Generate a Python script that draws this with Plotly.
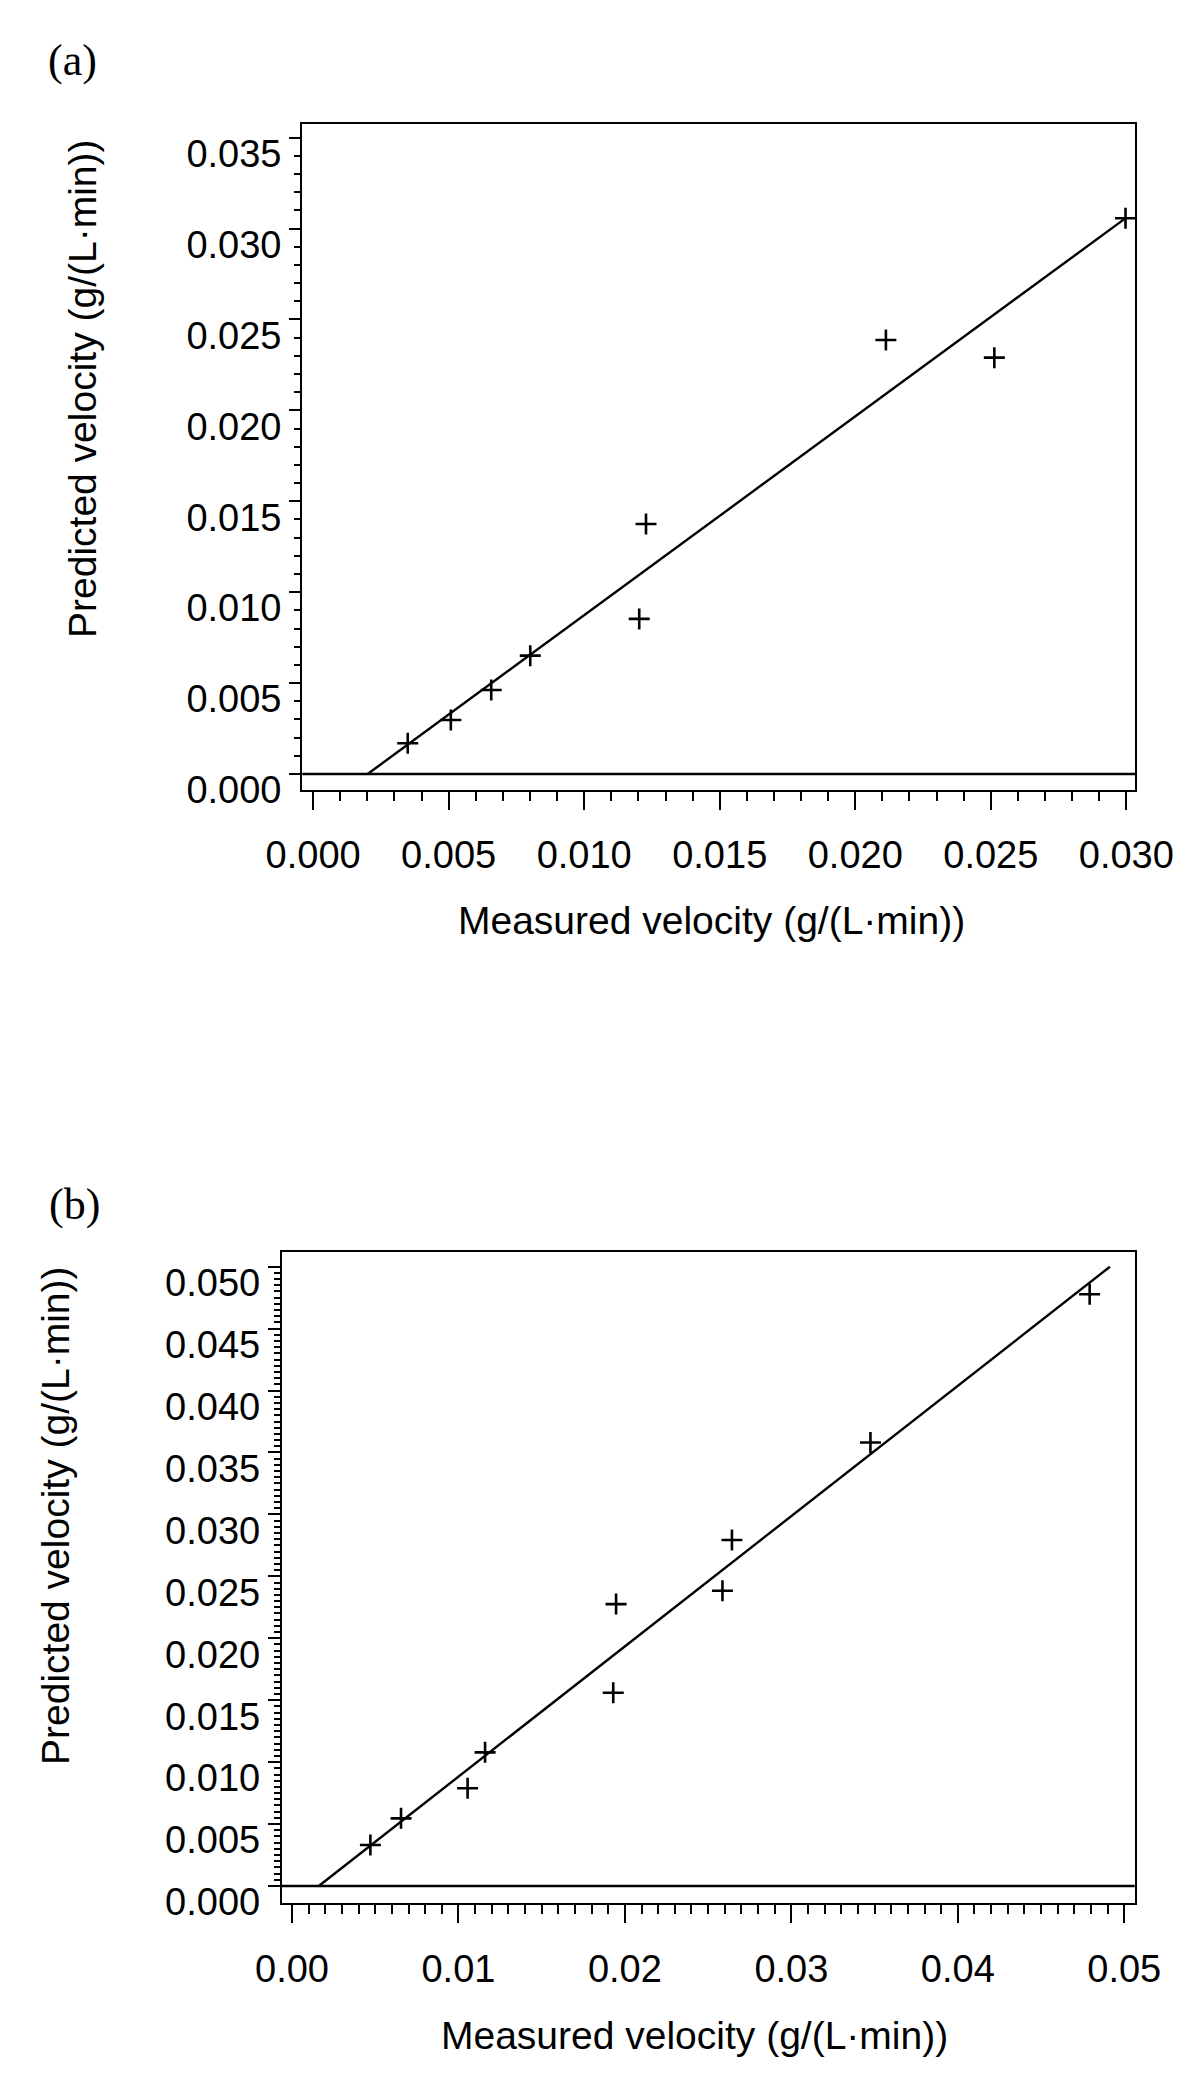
import numpy as np
import plotly.graph_objects as go

# ---------------- data ----------------
# Panel (a)
meas_a = [0.00349, 0.00508, 0.00657, 0.00801, 0.01228, 0.01203, 0.02113, 0.02513, 0.02997]
pred_a = [0.00169, 0.00297, 0.00462, 0.00651, 0.01375, 0.00853, 0.02387, 0.02290, 0.03057]
fit_x_a = [0.00201, 0.03000]
fit_y_a = [0.00000, 0.03060]

# Panel (b)
meas_b = [0.00471, 0.00655, 0.01055, 0.01160, 0.01930, 0.01947, 0.02586, 0.02643, 0.03475, 0.04792]
pred_b = [0.00331, 0.00546, 0.00789, 0.01079, 0.01560, 0.02276, 0.02383, 0.02793, 0.03581, 0.04778]
fit_x_b = [0.00161, 0.04914]
fit_y_b = [0.00000, 0.05000]

panel_labels = ["(a)", "(b)"]
x_title = "Measured velocity (g/(L·min))"
y_title = "Predicted velocity (g/(L·min))"

# ---------------- figure ----------------
W, H = 1200, 2094
OFF = 8  # page body margin of the browser
TICKFONT = dict(family="Liberation Sans, Arial, sans-serif", size=38, color="black")
TITLEFONT = dict(family="Liberation Sans, Arial, sans-serif", size=39, color="black")


def px_x(p):
    return (p - OFF) / W


def px_y(p):
    return 1 - (p - OFF) / H


fig = go.Figure()

marker = dict(symbol="cross-thin", size=15, color="black", line=dict(color="black", width=2.6))

fig.add_trace(go.Scatter(x=fit_x_a, y=fit_y_a, mode="lines", line=dict(color="black", width=2.4),
                         xaxis="x", yaxis="y", showlegend=False, hoverinfo="skip"))
fig.add_trace(go.Scatter(x=meas_a, y=pred_a, mode="markers", marker=marker,
                         xaxis="x", yaxis="y", showlegend=False))
fig.add_trace(go.Scatter(x=fit_x_b, y=fit_y_b, mode="lines", line=dict(color="black", width=2.4),
                         xaxis="x2", yaxis="y2", showlegend=False, hoverinfo="skip"))
fig.add_trace(go.Scatter(x=meas_b, y=pred_b, mode="markers", marker=marker,
                         xaxis="x2", yaxis="y2", showlegend=False))

common = dict(showline=True, linewidth=2.4, linecolor="black", mirror=True, showgrid=False,
              zeroline=False, ticks="outside", tickwidth=2.4, tickcolor="black", tickfont=TICKFONT,
              automargin=False)

fig.update_layout(
    template="none",
    width=W, height=H,
    margin=dict(l=0, r=0, t=0, b=0, pad=0),
    paper_bgcolor="white", plot_bgcolor="white",
    showlegend=False,
    xaxis=dict(domain=[px_x(302.3), px_x(1135)], range=[-0.0004, 0.03032], anchor="y",
               tick0=0, dtick=0.005, tickformat=".3f", ticklen=18, ticklabelstandoff=12,
               minor=dict(ticks="outside", ticklen=9, tickwidth=2.4, tickcolor="black", tick0=0, dtick=0.001),
               **common),
    yaxis=dict(domain=[px_y(790), px_y(124)], range=[-0.00088, 0.03575], anchor="x",
               tick0=0, dtick=0.005, tickformat=".3f", ticklen=11, ticklabelshift=16,
               minor=dict(ticks="outside", ticklen=6, tickwidth=2.4, tickcolor="black", tick0=0, dtick=0.001),
               **common),
    xaxis2=dict(domain=[px_x(282), px_x(1134.6)], range=[-0.0006, 0.05062], anchor="y2",
                tick0=0, dtick=0.01, tickformat=".2f", ticklen=18, ticklabelstandoff=13,
                minor=dict(ticks="outside", ticklen=9, tickwidth=2.4, tickcolor="black", tick0=0, dtick=0.001),
                **common),
    yaxis2=dict(domain=[px_y(1902.7), px_y(1251.7)], range=[-0.00135, 0.05121], anchor="x2",
                tick0=0, dtick=0.005, tickformat=".3f", ticklen=12, ticklabelshift=16,
                minor=dict(ticks="outside", ticklen=6, tickwidth=2.4, tickcolor="black",
                           tickmode="array", tickvals=list(np.round(np.arange(0, 0.0505, 0.0005), 5))),
                **common),
)

# horizontal zero lines
for xr, yr in (("x domain", "y"), ("x2 domain", "y2")):
    fig.add_shape(type="line", xref=xr, yref=yr, x0=0, x1=1, y0=0, y1=0,
                  line=dict(color="black", width=2.4))

# panel letters
fig.add_annotation(text=panel_labels[0], x=px_x(72.8), y=px_y(60), xref="paper", yref="paper",
                   showarrow=False, xanchor="center", yanchor="middle",
                   font=dict(family="Liberation Serif, Times New Roman, serif", size=44, color="black"))
fig.add_annotation(text=panel_labels[1], x=px_x(74), y=px_y(1204), xref="paper", yref="paper",
                   showarrow=False, xanchor="center", yanchor="middle",
                   font=dict(family="Liberation Serif, Times New Roman, serif", size=44, color="black"))

# axis titles
fig.add_annotation(text=x_title, x=px_x(711), y=px_y(920), xref="paper", yref="paper",
                   showarrow=False, xanchor="center", yanchor="middle", font=TITLEFONT)
fig.add_annotation(text=x_title, x=px_x(694), y=px_y(2035), xref="paper", yref="paper",
                   showarrow=False, xanchor="center", yanchor="middle", font=TITLEFONT)
fig.add_annotation(text=y_title, x=px_x(83), y=px_y(389), xref="paper", yref="paper", textangle=-90,
                   showarrow=False, xanchor="center", yanchor="middle", font=TITLEFONT)
fig.add_annotation(text=y_title, x=px_x(55), y=px_y(1516), xref="paper", yref="paper", textangle=-90,
                   showarrow=False, xanchor="center", yanchor="middle", font=TITLEFONT)

fig.write_html("out.html")
